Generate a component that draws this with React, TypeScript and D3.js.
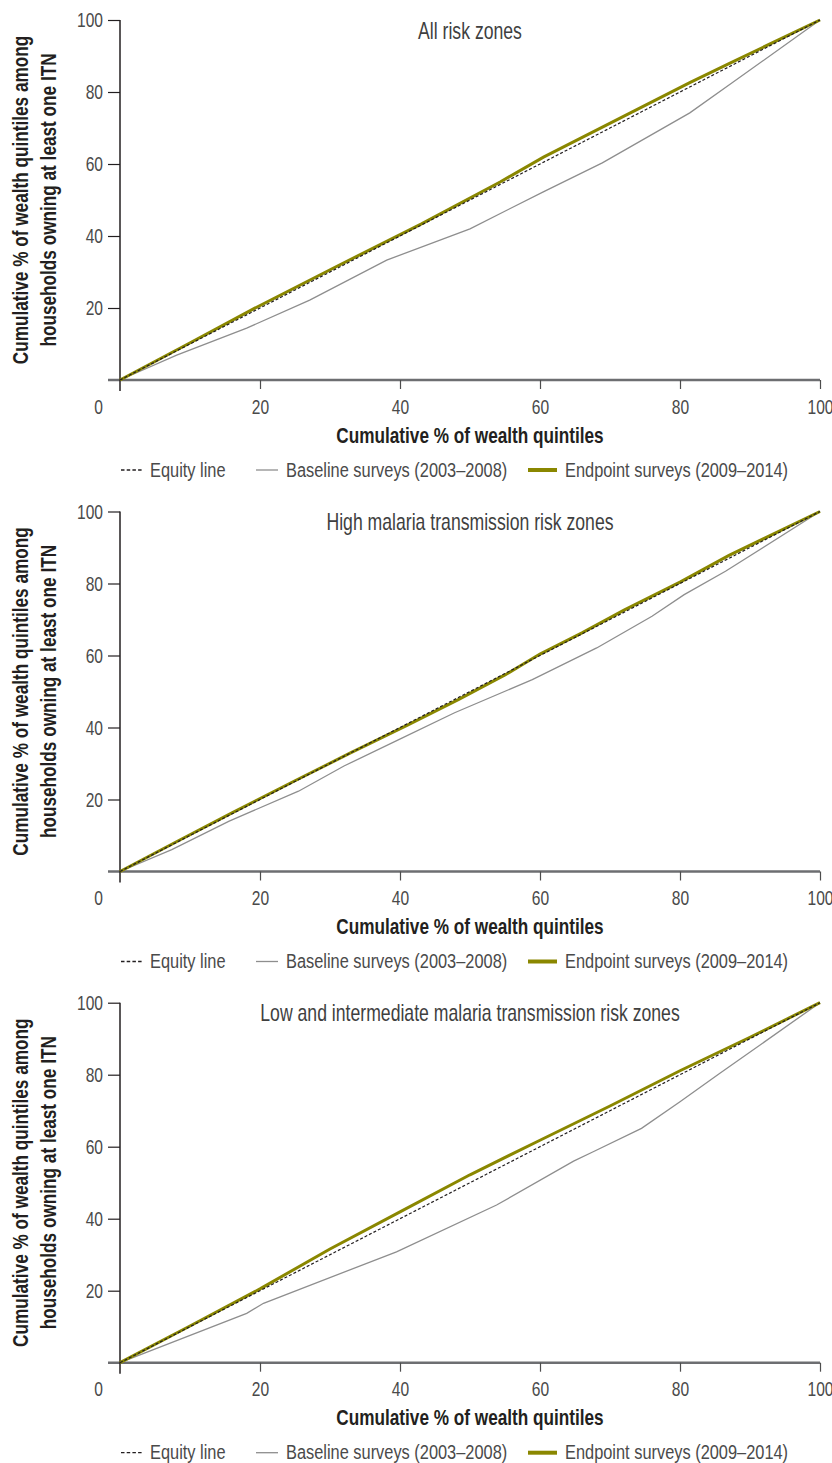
import React, { useEffect, useRef } from "react";
import * as d3 from "d3";

type Pt = [number, number];

// Concentration curves: [cumulative % of wealth quintiles, cumulative % of ITN-owning households]
const equityLine: Pt[] = [[0, 0], [100, 100]];

const allZonesBaseline: Pt[] = [
  [0, 0], [8.1, 6.9], [18.1, 14.4], [27.1, 22.2], [38.1, 33.3], [50, 42],
  [60.4, 52.2], [68.9, 60.3], [81.4, 74.2], [87.4, 82.5], [100, 100],
];
const allZonesEndpoint: Pt[] = [
  [0, 0], [9.5, 9.8], [19, 19.7], [31, 31.6], [43, 43.3], [54.3, 55],
  [60.5, 61.9], [81.4, 82.6], [87, 87.9], [100, 100],
];

const highRiskBaseline: Pt[] = [
  [0, 0], [7.4, 6.1], [15.6, 14], [25.5, 22.3], [32, 29.3], [39.9, 36.7],
  [47.8, 44.1], [58.9, 53.3], [68.1, 62.1], [76, 70.9], [80.6, 76.9],
  [86.5, 83.4], [100, 100],
];
const highRiskEndpoint: Pt[] = [
  [0, 0], [8, 8.2], [16, 16.3], [25, 25.2], [33, 33], [41, 40.6], [48.4, 47.8],
  [55, 54.6], [60, 60.4], [66, 66.3], [72, 72.6], [80, 80.4], [87, 87.8], [100, 100],
];

const lowRiskBaseline: Pt[] = [
  [0, 0], [18.1, 13.7], [20.5, 16.5], [39.5, 30.8], [53.8, 43.8], [64.8, 56],
  [67.6, 58.6], [74.5, 65.1], [80, 72.5], [85.7, 80.4], [100, 100],
];
const lowRiskEndpoint: Pt[] = [
  [0, 0], [10, 10.2], [20, 20.5], [30, 31.6], [40, 41.9], [50, 52.2],
  [60, 61.8], [70, 71.3], [80, 81.1], [90, 90.4], [100, 100],
];

const panelTitles = [
  "All risk zones",
  "High malaria transmission risk zones",
  "Low and intermediate malaria transmission risk zones",
];
const tickValues = [20, 40, 60, 80, 100];
const xTitle = "Cumulative % of wealth quintiles";
const yTitleLines = [
  "Cumulative % of wealth quintiles among",
  "households owning at least one ITN",
];
const legendLabels = [
  "Equity line",
  "Baseline surveys (2003–2008)",
  "Endpoint surveys (2009–2014)",
];

// Condensed face emulated by squeezing a regular sans horizontally
const FONT = "'Liberation Sans', Arial, sans-serif";
const W = 832;
const H = 1463;
const PLOT_LEFT = 120;
const PLOT_RIGHT = 820;
const PLOT_H = 360;
const PANEL_TOPS = [20, 511.5, 1002.7];

const TICK_SIZE = 20.5;
const TICK_SQUEEZE = 0.76;

const COLORS = {
  equity: "#231f20",
  baseline: "#8e8e8e",
  endpoint: "#8a8700",
  axisX: "#6d6e71",
  axisY: "#231f20",
  tickText: "#4a4a4a",
  title: "#231f20",
  panelTitle: "#3f3f3f",
};

interface NTextProps {
  x: number;
  y: number;
  size: number;
  squeeze?: number;
  anchor?: "start" | "middle" | "end";
  bold?: boolean;
  fill: string;
  rotate?: number;
  children: React.ReactNode;
}

function NText({ x, y, size, squeeze = 0.82, anchor = "start", bold = false, fill, rotate = 0, children }: NTextProps) {
  return (
    <text
      transform={`translate(${x}, ${y}) rotate(${rotate}) scale(${squeeze}, 1)`}
      textAnchor={anchor}
      fontFamily={FONT}
      fontWeight={bold ? "bold" : "normal"}
      fontSize={size}
      fill={fill}
    >
      {children}
    </text>
  );
}

interface PanelProps {
  top: number;
  title: string;
  baseline: Pt[];
  endpoint: Pt[];
}

function Panel({ top, title, baseline, endpoint }: PanelProps) {
  const yAxisRef = useRef<SVGGElement>(null);
  const xAxisRef = useRef<SVGGElement>(null);

  const x = d3.scaleLinear().domain([0, 100]).range([PLOT_LEFT, PLOT_RIGHT]);
  const y = d3.scaleLinear().domain([0, 100]).range([PLOT_H, 0]);
  const line = d3
    .line<Pt>()
    .x((d) => x(d[0]))
    .y((d) => y(d[1]));

  useEffect(() => {
    const ya = d3.select(yAxisRef.current as SVGGElement);
    ya.selectAll("*").remove();
    ya.call(d3.axisLeft(y).tickValues(tickValues).tickSize(12).tickFormat(d3.format("d")));
    ya.select(".domain").remove();
    ya.selectAll(".tick line").attr("stroke", COLORS.axisY).attr("stroke-width", 1.2);
    ya.selectAll(".tick text")
      .attr("x", 0)
      .attr("transform", `translate(-17, 0) scale(${TICK_SQUEEZE}, 1)`)
      .attr("font-family", FONT)
      .attr("font-size", TICK_SIZE)
      .attr("fill", COLORS.tickText);

    const xa = d3.select(xAxisRef.current as SVGGElement);
    xa.selectAll("*").remove();
    xa.call(d3.axisBottom(x).tickValues(tickValues).tickSize(9).tickFormat(d3.format("d")));
    xa.select(".domain").remove();
    xa.selectAll(".tick line").attr("stroke", "#4d4d4d").attr("stroke-width", 1.2);
    xa.selectAll(".tick text")
      .attr("y", 0)
      .attr("dy", null)
      .attr("transform", `translate(0, 33.5) scale(${TICK_SQUEEZE}, 1)`)
      .attr("font-family", FONT)
      .attr("font-size", TICK_SIZE)
      .attr("fill", COLORS.tickText);
  }, []);

  const legendY = PLOT_H + 90;
  const legendTextY = PLOT_H + 96.5;

  return (
    <g transform={`translate(0, ${top})`}>
      {/* y-axis title, two rotated lines */}
      {yTitleLines.map((t, i) => (
        <NText
          key={t}
          x={28 + i * 28}
          y={PLOT_H / 2}
          rotate={-90}
          anchor="middle"
          bold
          size={21.5}
          squeeze={0.8}
          fill={COLORS.title}
        >
          {t}
        </NText>
      ))}

      {/* panel title */}
      <NText x={(PLOT_LEFT + PLOT_RIGHT) / 2} y={18.5} anchor="middle" size={23} squeeze={0.767} fill={COLORS.panelTitle}>
        {title}
      </NText>

      {/* axes */}
      <line
        x1={PLOT_LEFT - 12}
        x2={x(100)}
        y1={y(0)}
        y2={y(0)}
        stroke={COLORS.axisX}
        strokeWidth={2.6}
      />
      <line
        x1={PLOT_LEFT}
        x2={PLOT_LEFT}
        y1={y(100)}
        y2={y(0) + 11}
        stroke={COLORS.axisY}
        strokeWidth={1.5}
      />
      <g ref={yAxisRef} transform={`translate(${PLOT_LEFT}, 0)`} />
      <g ref={xAxisRef} transform={`translate(0, ${PLOT_H})`} />
      <NText x={PLOT_LEFT - 17} y={PLOT_H + 33.5} anchor="end" size={TICK_SIZE} squeeze={TICK_SQUEEZE} fill={COLORS.tickText}>
        0
      </NText>

      {/* curves */}
      <path d={line(baseline) ?? ""} fill="none" stroke={COLORS.baseline} strokeWidth={1.3} />
      <path d={line(endpoint) ?? ""} fill="none" stroke={COLORS.endpoint} strokeWidth={3} />
      <path
        d={line(equityLine) ?? ""}
        fill="none"
        stroke={COLORS.equity}
        strokeWidth={1.2}
        strokeDasharray="3 2"
      />

      {/* x-axis title */}
      <NText x={(PLOT_LEFT + PLOT_RIGHT) / 2} y={PLOT_H + 62.5} anchor="middle" bold size={21.5} squeeze={0.8} fill={COLORS.title}>
        {xTitle}
      </NText>

      {/* legend */}
      <line x1={121} x2={143} y1={legendY} y2={legendY} stroke={COLORS.equity} strokeWidth={1.3} strokeDasharray="3.5 2.2" />
      <NText x={150} y={legendTextY} size={21} squeeze={0.78} fill={COLORS.tickText}>
        {legendLabels[0]}
      </NText>
      <line x1={256} x2={278} y1={legendY} y2={legendY} stroke={COLORS.baseline} strokeWidth={1.3} />
      <NText x={286} y={legendTextY} size={21} squeeze={0.78} fill={COLORS.tickText}>
        {legendLabels[1]}
      </NText>
      <line x1={528} x2={557} y1={legendY} y2={legendY} stroke={COLORS.endpoint} strokeWidth={4} />
      <NText x={565} y={legendTextY} size={21} squeeze={0.78} fill={COLORS.tickText}>
        {legendLabels[2]}
      </NText>
    </g>
  );
}

export default function App() {
  const panels = [
    { baseline: allZonesBaseline, endpoint: allZonesEndpoint },
    { baseline: highRiskBaseline, endpoint: highRiskEndpoint },
    { baseline: lowRiskBaseline, endpoint: lowRiskEndpoint },
  ];
  return (
    <div style={{ position: "absolute", left: 0, top: 0 }}>
      <svg width={W} height={H} style={{ display: "block", background: "#ffffff" }}>
        {panels.map((p, i) => (
          <Panel
            key={panelTitles[i]}
            top={PANEL_TOPS[i]}
            title={panelTitles[i]}
            baseline={p.baseline}
            endpoint={p.endpoint}
          />
        ))}
      </svg>
    </div>
  );
}
